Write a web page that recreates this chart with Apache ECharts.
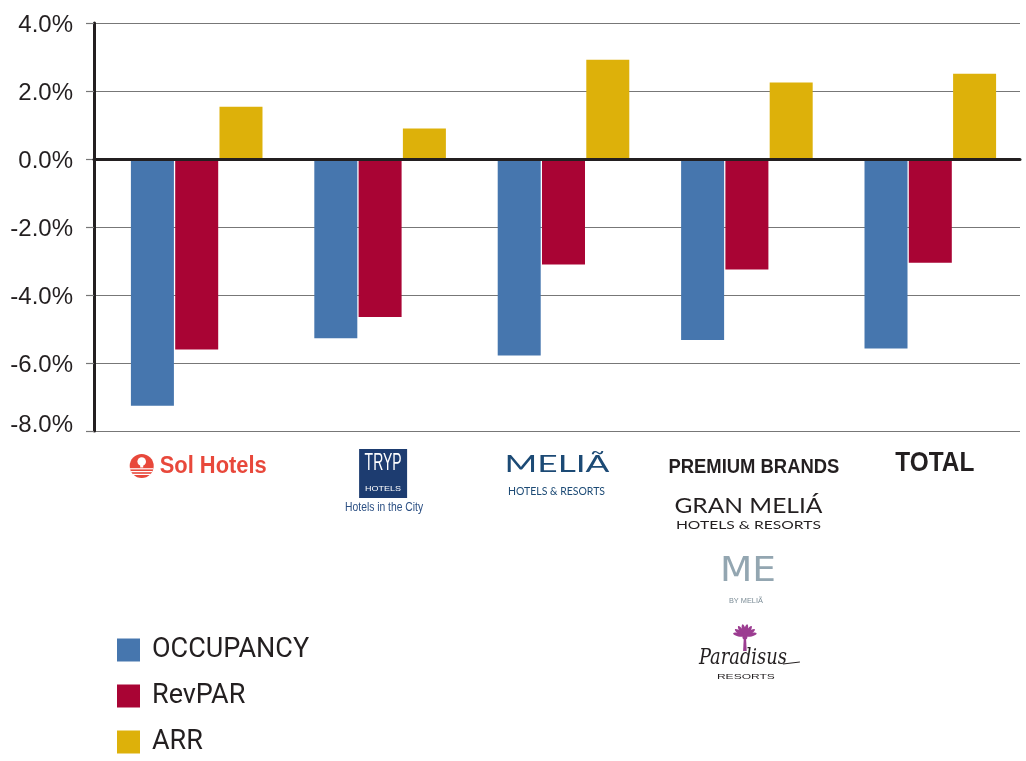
<!DOCTYPE html>
<html>
<head>
<meta charset="utf-8">
<script src="https://cdn.jsdelivr.net/npm/echarts@6/dist/echarts.min.js"></script>
<style>
html,body{margin:0;padding:0;background:#fff;}
#chart{width:1026px;height:761px;}
</style>
</head>
<body>
<div id="chart"></div>
<script>
const categories = ['Sol Hotels', 'TRYP Hotels', 'MELIÃ Hotels & Resorts', 'Premium Brands', 'TOTAL'];
const seriesNames = ['OCCUPANCY', 'RevPAR', 'ARR'];
const occupancy = [-7.26, -5.27, -5.78, -5.32, -5.57];
const revpar = [-5.60, -4.65, -3.10, -3.25, -3.05];
const arr = [1.54, 0.90, 2.92, 2.25, 2.51];
const yTicks = [-8, -6, -4, -2, 0, 2, 4];

const colors = ['#4676ae', '#a90434', '#ddb10a'];
const NARROW = "'Liberation Sans Narrow','Arial Narrow','Liberation Sans',Arial,sans-serif";
const SANS = "'Liberation Sans',Arial,sans-serif";

const chart = echarts.init(document.getElementById('chart'), null, {renderer: 'canvas'});

const yMin = yTicks[0], yMax = yTicks[yTicks.length - 1], yStep = yTicks[1] - yTicks[0];

chart.setOption({
  animation: false,
  backgroundColor: '#ffffff',
  grid: [
    {left: 94, right: 6, top: 23, bottom: 330},
    {left: 105, width: 917, top: 23, bottom: 330}
  ],
  legend: {
    data: seriesNames,
    orient: 'vertical',
    left: 117,
    top: 636,
    height: 200,
    padding: 0,
    itemWidth: 23,
    itemHeight: 23,
    itemGap: 18,
    icon: 'rect',
    textStyle: {fontFamily: "Roboto,'Liberation Sans',sans-serif", fontSize: 27, lineHeight: 23, color: '#231f20', padding: [5, 0, 0, 7]}
  },
  xAxis: [
    {
      type: 'value', gridIndex: 0, min: 0, max: 1, z: 10,
      axisLine: {show: true, onZero: true, lineStyle: {color: '#231f20', width: 3}},
      axisTick: {show: false}, axisLabel: {show: false}, splitLine: {show: false}
    },
    {
      type: 'category', gridIndex: 1, data: categories,
      axisLine: {show: false}, axisTick: {show: false}, axisLabel: {show: false}, splitLine: {show: false}
    }
  ],
  yAxis: [
    {
      type: 'value', gridIndex: 0, min: yMin, max: yMax, interval: yStep,
      axisLine: {show: true, lineStyle: {color: '#231f20', width: 3}},
      axisTick: {show: true, length: 8, lineStyle: {color: '#777', width: 1.2}},
      axisLabel: {
        margin: 21,
        formatter: v => (v === yMin ? '{b|' : '{a|') + v.toFixed(1) + '%}',
        rich: {
          a: {fontFamily: SANS, fontSize: 24, color: '#231f20', padding: [5, 0, 0, 0]},
          b: {fontFamily: SANS, fontSize: 24, color: '#231f20', padding: [0, 0, 12, 0]}
        }
      },
      splitLine: {show: true, lineStyle: {color: '#777', width: 1.2}}
    },
    {
      type: 'value', gridIndex: 1, min: yMin, max: yMax, interval: yStep, show: false,
      splitLine: {show: false}
    }
  ],
  series: [
    {name: seriesNames[0], type: 'bar', xAxisIndex: 1, yAxisIndex: 1, data: occupancy, barWidth: 43, barGap: '3%', itemStyle: {color: colors[0]}},
    {name: seriesNames[1], type: 'bar', xAxisIndex: 1, yAxisIndex: 1, data: revpar, barWidth: 43, barGap: '3%', itemStyle: {color: colors[1]}},
    {name: seriesNames[2], type: 'bar', xAxisIndex: 1, yAxisIndex: 1, data: arr, barWidth: 43, barGap: '3%', itemStyle: {color: colors[2]}}
  ]
});

// ---- category logos (text-based) anchored to the category axis ----
const mctx = document.createElement('canvas').getContext('2d');
function fitText(text, cx, cy, size, family, weight, color, targetW, fontStyle) {
  fontStyle = fontStyle || 'normal';
  mctx.font = fontStyle + ' ' + weight + ' ' + size + 'px ' + family;
  const w = mctx.measureText(text).width || targetW;
  return {
    type: 'text', x: cx, y: cy, scaleX: targetW / w, z: 100,
    style: {text: text, fontSize: size, fontFamily: family, fontWeight: weight, fontStyle: fontStyle,
            fill: color, align: 'center', verticalAlign: 'middle'}
  };
}
const c = categories.map((_, i) => chart.convertToPixel({xAxisIndex: 1}, i));
const g = [];
// Sol Hotels
const sx = c[0] - 55, sy = 466, red = '#e8483b';
g.push({type: 'circle', shape: {cx: sx, cy: sy, r: 12}, style: {fill: red}, z: 100});
g.push({type: 'circle', shape: {cx: sx, cy: sy - 4.5, r: 4.3}, style: {fill: '#fff'}, z: 101});
g.push({type: 'rect', shape: {x: sx - 1.5, y: sy - 2, width: 3, height: 3.5}, style: {fill: '#fff'}, z: 101});
[[2.2, 11.7], [5.0, 10.8], [7.8, 9.0]].forEach(([dy, hw]) => {
  g.push({type: 'rect', shape: {x: sx - hw, y: sy + dy, width: hw * 2, height: 1.2}, style: {fill: '#fff'}, z: 101});
});
g.push(fitText('Sol Hotels', c[0] + 16.5, 466.5, 23, SANS, 'bold', red, 107));
// TRYP
const tx = c[1] + 3;
g.push({type: 'rect', shape: {x: tx - 24, y: 449, width: 48, height: 49}, style: {fill: '#1d3c70'}, z: 100});
g.push(fitText('TRYP', tx, 464, 23, NARROW, 'normal', '#ffffff', 37));
g.push(fitText('HOTELS', tx, 489.5, 7, SANS, 'normal', '#ffffff', 36));
g.push(fitText('Hotels in the City', tx + 1, 508, 12.5, NARROW, 'normal', '#2b4f83', 78));
// MELIA
g.push(fitText('MELIÃ', c[2] - 6.5, 464, 24, 'Lato,sans-serif', 'normal', '#1c4a75', 105));
g.push(fitText('HOTELS & RESORTS', c[2] - 7, 491, 11.5, 'Lato,sans-serif', 'normal', '#1c4a75', 97));
// PREMIUM BRANDS
g.push(fitText('PREMIUM BRANDS', c[3] + 7, 467, 21, NARROW, 'bold', '#231f20', 171));
g.push(fitText('GRAN MELIÁ', c[3] + 1.5, 506, 21, 'Lato,sans-serif', 'normal', '#231f20', 148));
g.push(fitText('HOTELS & RESORTS', c[3] + 1.5, 525.5, 10.5, 'Lato,sans-serif', 'normal', '#231f20', 145));
g.push(fitText('ME', c[3] + 1, 572, 33, "'DejaVu Sans',sans-serif", 'normal', '#93a6b1', 56));
g.push(fitText('BY MELIÃ', c[3] - 1, 601.5, 6.5, SANS, 'normal', '#7b8c96', 34));
// palm icon
const px = c[3] - 2, py = 639, purple = '#9c3d91';
g.push({type: 'polygon', shape: {points: [[px - 1.2, py], [px + 1.2, py], [px + 1.8, py + 12], [px - 1.8, py + 12]]}, style: {fill: purple}, z: 100});
[-78, -56, -34, -11, 11, 34, 56, 78].forEach(a => {
  const r = a * Math.PI / 180;
  g.push({type: 'ellipse', x: px + Math.sin(r) * 6.5, y: py - 3 - Math.cos(r) * 6.5, rotation: -r,
          shape: {cx: 0, cy: 0, rx: 1.8, ry: 5.5}, style: {fill: purple}, z: 100});
});
g.push({type: 'circle', shape: {cx: px, cy: py - 2, r: 2.5}, style: {fill: purple}, z: 100});
g.push(fitText('Paradisus', c[3] - 4, 658, 23, "'DejaVu Serif',serif", 'normal', '#231f20', 88, 'italic'));
g.push({type: 'line', shape: {x1: c[3] + 36, y1: 664, x2: c[3] + 53, y2: 662}, style: {stroke: '#231f20', lineWidth: 1}, z: 100});
g.push(fitText('RESORTS', c[3] - 1, 677, 7.5, SANS, 'normal', '#231f20', 58));
// TOTAL
g.push(fitText('TOTAL', c[4] + 4.5, 463.5, 28, NARROW, 'bold', '#231f20', 79));

chart.setOption({graphic: {elements: g}});
</script>
</body>
</html>
